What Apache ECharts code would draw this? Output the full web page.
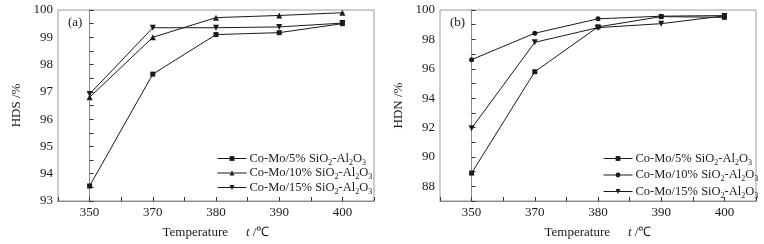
<!DOCTYPE html>
<html>
<head>
<meta charset="utf-8">
<script src="https://cdn.jsdelivr.net/npm/echarts@6/dist/echarts.min.js"></script>
<style>
  html, body { margin: 0; padding: 0; background: #fff; }
  #wrap { position: relative; width: 764px; height: 244px; }
  .panel { position: absolute; top: 0; width: 382px; height: 244px; }
</style>
</head>
<body>
<div id="wrap">
  <div id="chartA" class="panel" style="left:0"></div>
  <div id="chartB" class="panel" style="left:382px"></div>
</div>
<script>
  var categories = ['350', '370', '380', '390', '400'];
  var seriesNames = ['Co-Mo/5% SiO2-Al2O3', 'Co-Mo/10% SiO2-Al2O3', 'Co-Mo/15% SiO2-Al2O3'];

  // (a) HDS, %
  var hds5 = [93.55, 97.65, 99.1, 99.17, 99.5];
  var hds10 = [96.8, 99.0, 99.72, 99.8, 99.9];
  var hds15 = [96.92, 99.35, 99.35, 99.38, 99.52];

  // (b) HDN, %
  var hdn5 = [88.9, 95.8, 98.85, 99.55, 99.5];
  var hdn10 = [96.62, 98.42, 99.4, 99.58, 99.62];
  var hdn15 = [91.95, 97.8, 98.8, 99.07, 99.6];

  var font = 'Liberation Serif';
  var ink = '#1a1a1a';

  function pairs(vals) {
    return vals.map(function (v, i) { return [i, v]; });
  }

  function legendText(name) {
    return '{a|' + name.replace(/([A-Za-z])(\d)/g, '$1}{s|$2}{a|') + '}';
  }

  function makeSeries(name, vals, symbol, size, rotate) {
    return {
      name: name,
      type: 'line',
      data: pairs(vals),
      symbol: symbol,
      symbolSize: size,
      symbolRotate: rotate || 0,
      lineStyle: { color: ink, width: 1 },
      itemStyle: { color: ink },
      animation: false
    };
  }

  function buildOption(cfg) {
    return {
      animation: false,
      grid: {
        left: 58, right: 8, top: 10, bottom: 36,
        show: true, borderColor: '#9a9a9a', borderWidth: 1
      },
      graphic: [{
        type: 'text', left: 68, top: 16,
        style: { text: cfg.tag, font: '13px "' + font + '"', fill: ink }
      }],
      legend: {
        orient: 'vertical',
        left: cfg.legendLeft, top: 147,
        itemWidth: 29, itemHeight: 6, itemGap: cfg.legendGap,
        lineStyle: { width: 1 },
        textStyle: {
          color: ink, fontFamily: font, padding: [0, 0, 0, -2],
          rich: {
            a: { fontFamily: font, fontSize: 12.5, color: ink, lineHeight: 16 },
            s: { fontFamily: font, fontSize: 8, color: ink, lineHeight: 9, verticalAlign: 'bottom' }
          }
        },
        formatter: legendText,
        data: seriesNames
      },
      xAxis: {
        type: 'value',
        min: -0.5, max: 4.5, interval: 0.5,
        name: '{n|Temperature}{g|}{i|t}{n| /℃}',
        nameLocation: 'middle', nameGap: 25,
        nameTextStyle: {
          rich: {
            n: { fontFamily: font, fontSize: 13, color: ink },
            g: { width: 18 },
            i: { fontFamily: font, fontSize: 13, color: ink, fontStyle: 'italic' }
          }
        },
        axisLine: { lineStyle: { color: '#8a8a8a' } },
        axisTick: { inside: true, length: 4, lineStyle: { color: '#333' } },
        splitLine: { show: false },
        axisLabel: {
          fontFamily: font, fontSize: 13, color: ink, margin: 5,
          formatter: function (v) { return Number.isInteger(v) ? categories[v] : ''; }
        }
      },
      yAxis: {
        type: 'value',
        min: cfg.yMin, max: 100, interval: cfg.yTick,
        name: cfg.yName,
        nameLocation: 'middle', nameGap: 35,
        nameTextStyle: { fontFamily: font, fontSize: 13, color: ink },
        axisLine: { show: true, lineStyle: { color: '#8a8a8a' } },
        axisTick: { show: true, inside: true, length: 4, lineStyle: { color: '#333' } },
        splitLine: { show: false },
        axisLabel: {
          fontFamily: font, fontSize: 13, color: ink, margin: 5,
          formatter: function (v) { return v % cfg.yLabelStep === 0 ? String(v) : ''; }
        }
      },
      series: cfg.series
    };
  }

  var chartA = echarts.init(document.getElementById('chartA'));
  chartA.setOption(buildOption({
    tag: '(a)',
    yName: 'HDS /%',
    yMin: 93, yTick: 0.5, yLabelStep: 1,
    legendLeft: 212, legendGap: 0,
    series: [
      makeSeries(seriesNames[0], hds5, 'rect', 5),
      makeSeries(seriesNames[1], hds10, 'triangle', 6),
      makeSeries(seriesNames[2], hds15, 'triangle', 6, 180)
    ]
  }));

  var chartB = echarts.init(document.getElementById('chartB'));
  chartB.setOption(buildOption({
    tag: '(b)',
    yName: 'HDN /%',
    yMin: 87, yTick: 1, yLabelStep: 2,
    legendLeft: 216, legendGap: 2,
    series: [
      makeSeries(seriesNames[0], hdn5, 'rect', 5),
      makeSeries(seriesNames[1], hdn10, 'circle', 5),
      makeSeries(seriesNames[2], hdn15, 'triangle', 6, 180)
    ]
  }));
</script>
</body>
</html>
